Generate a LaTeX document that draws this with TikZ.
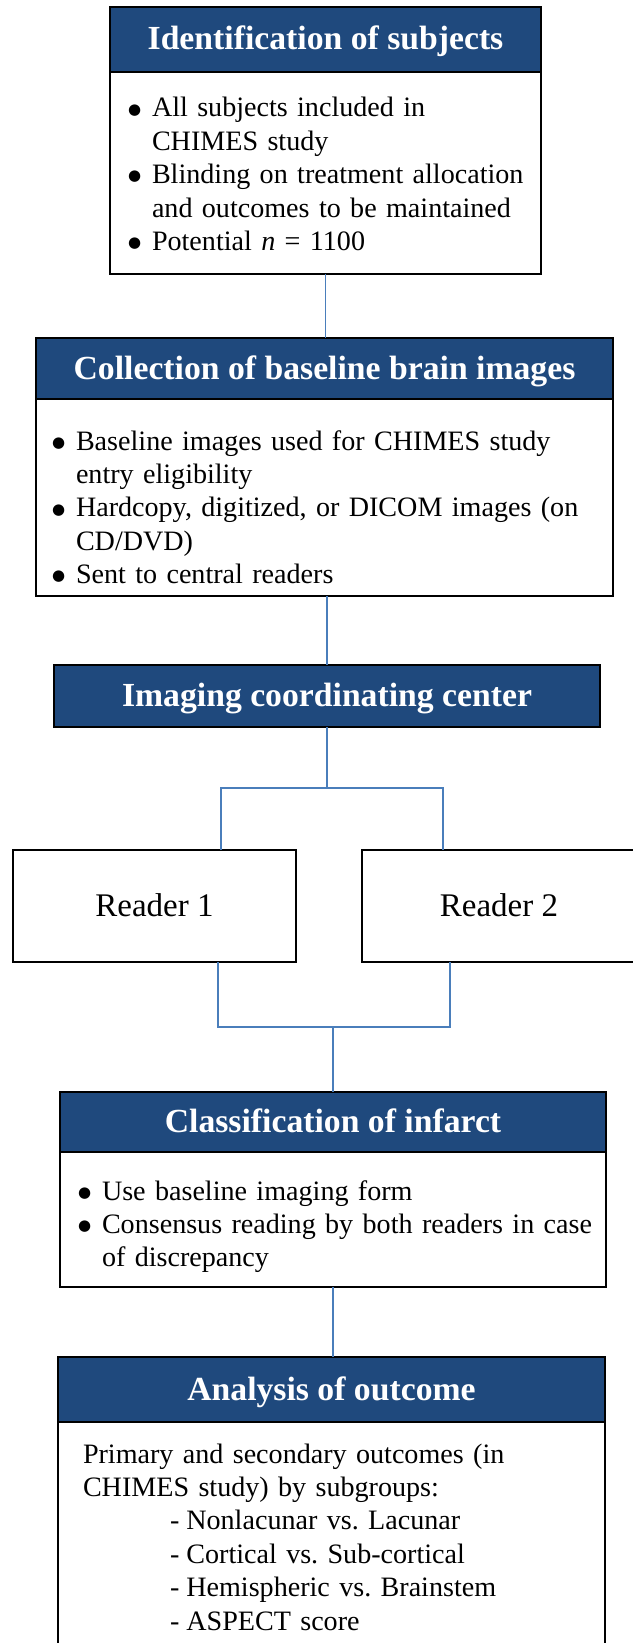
\documentclass[tikz,border=0pt]{standalone}
\usepackage{fontspec}
\setmainfont{Liberation Serif}
\newfontfamily\symfont{DejaVu Sans}
\usepackage{tikz}
\usetikzlibrary{positioning}
\frenchspacing
\definecolor{headblue}{RGB}{31,73,125}
\definecolor{linkblue}{RGB}{74,126,187}
\tikzstyle{header} = [rectangle, anchor=north west, draw=black, line width=1.3pt, fill=headblue, text=white, font=\fontsize{33.7}{40}\selectfont\bfseries, text height=24pt, text depth=3pt, inner sep=0pt, outer sep=0pt]
\tikzstyle{content} = [rectangle, draw=black, line width=1.3pt, fill=white, align=left, font=\fontsize{28.1}{33.4}\selectfont, text height=26pt, inner ysep=0pt, outer sep=0pt]
\tikzstyle{reader} = [rectangle, anchor=north west, draw=black, line width=1.3pt, fill=white, font=\fontsize{33}{40}\selectfont, text height=24pt, text depth=3pt, inner sep=0pt, outer sep=0pt]
\tikzstyle{link} = [draw=linkblue, line width=1.6pt]
\newcommand{\blt}{\hspace*{-3pt}\raisebox{2.8pt}{\symfont\fontsize{15}{15}\selectfont ●}}
\newcommand{\sub}{\hspace*{87pt}-\hspace{7pt}}

\begin{document}
\begin{tikzpicture}[x=1pt, y=-1pt]
\useasboundingbox (0,0) rectangle (632,1643);

\node (head1) [header, minimum width=431pt, minimum height=65pt] at (110,7) {Identification of subjects};
\node (body1) [content, below=0pt of head1, inner xsep=21pt, text width=389pt, minimum height=202pt, text depth=138pt] {\begin{tabular}[t]{@{}p{21pt}@{}l@{}}
\blt & All subjects included in\\
 & CHIMES study\\
\blt & Blinding on treatment allocation\\
 & and outcomes to be maintained\\
\blt & Potential \textit{n} = 1100
\end{tabular}};

\node (head2) [header, minimum width=577pt, minimum height=61pt] at (36,338) {Collection of baseline brain images};
\node (body2) [content, below=0pt of head2, inner xsep=19pt, text width=539pt, minimum height=197pt, text depth=121pt] {\begin{tabular}[t]{@{}p{21pt}@{}l@{}}
\blt & Baseline images used for CHIMES study\\
 & entry eligibility\\
\blt & Hardcopy, digitized, or DICOM images (on\\
 & CD/DVD)\\
\blt & Sent to central readers
\end{tabular}};

\node (icc) [header, minimum width=546pt, minimum height=62pt] at (54,665) {Imaging coordinating center};

\node (r1) [reader, minimum width=283pt, minimum height=112pt] at (13,850) {Reader 1};
\node (r2) [reader, minimum width=274pt, minimum height=112pt] at (362,850) {Reader 2};

\node (head4) [header, minimum width=546pt, minimum height=60pt] at (60,1092) {Classification of infarct};
\node (body4) [content, below=0pt of head4, inner xsep=21pt, text width=504pt, minimum height=135pt, text depth=65pt] {\begin{tabular}[t]{@{}p{21pt}@{}l@{}}
\blt & Use baseline imaging form\\
\blt & Consensus reading by both readers in case\\
 & of discrepancy
\end{tabular}};

\node (head5) [header, minimum width=547pt, minimum height=65pt] at (58,1357) {Analysis of outcome};
\node (body5) [content, below=0pt of head5, inner xsep=25pt, text width=497pt, minimum height=238pt, text depth=182pt] {\begin{tabular}[t]{@{}l@{}}
Primary and secondary outcomes (in\\
CHIMES study) by subgroups:\\
\sub Nonlacunar vs. Lacunar\\
\sub Cortical vs. Sub-cortical\\
\sub Hemispheric vs. Brainstem\\
\sub ASPECT score
\end{tabular}};

\coordinate (fork) at (327,788);
\coordinate (forkL) at (221,788);
\coordinate (forkR) at (443,788);
\coordinate (joinL) at (218,1027);
\coordinate (joinR) at (450,1027);

%% las lineas de union van despues de las cajas
\draw [link] (body1.south) -- (body1.south |- head2.north);
\draw [link] (icc.north |- body2.south) -- (icc.north);
\draw [link] (icc.south) -- (fork);
\draw [link] (r1.north -| forkL) -- (forkL) -- (forkR) -- (r2.north -| forkR);
\draw [link] (r1.south -| joinL) -- (joinL) -- (joinR) -- (r2.south -| joinR);
\draw [link] (head4.north) -- (head4.north |- joinL);
\draw [link] (body4.south) -- (body4.south |- head5.north);

\end{tikzpicture}
\end{document}
